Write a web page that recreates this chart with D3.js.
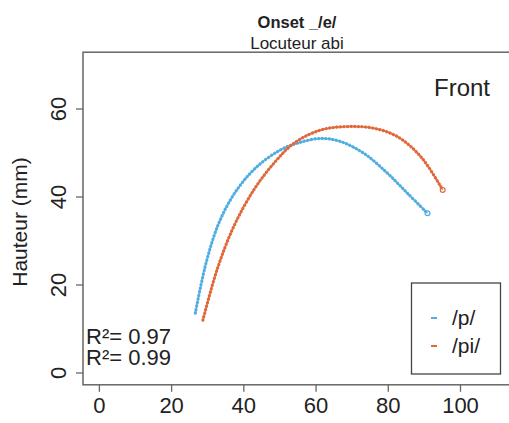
<!DOCTYPE html>
<html><head><meta charset="utf-8">
<script src="https://cdn.jsdelivr.net/npm/d3@7"></script>
<style>body{margin:0;background:#fff}svg{display:block}text{font-family:"Liberation Sans",Arial,sans-serif}</style>
</head><body><svg id="c" width="509" height="423"></svg>
<script>
const titleMain = "Onset _/e/";
const titleSub = "Locuteur abi";
const yLabel = "Hauteur (mm)";
const panelLabel = "Front";
const seriesNames = ["/p/", "/pi/"];
const seriesColors = ["#52AEE2", "#E0683A"];
const r2Labels = ["R²= 0.97", "R²= 0.99"];
const xTicks = [0, 20, 40, 60, 80, 100];
const yTicks = [0, 20, 40, 60];
const pX = [26.7, 29.9, 33.6, 38.2, 43.8, 50.3, 54.9, 61.4, 66.9, 73.4, 79.9, 85.5, 91.0];
const pY = [13.5, 25.6, 34.7, 41.5, 46.8, 50.6, 52.1, 53.2, 52.5, 49.8, 45.3, 40.7, 36.2];
const piX = [28.8, 32.7, 37.3, 42.9, 48.4, 54.0, 61.4, 68.8, 76.2, 82.7, 89.2, 95.2];
const piY = [11.9, 23.3, 33.1, 41.5, 47.5, 52.1, 55.1, 55.9, 55.5, 53.6, 49.0, 41.5];

const svg = d3.select("#c");
const x = d3.scaleLinear().domain([-4.4, 114.4]).range([83, 512]);
const y = d3.scaleLinear().domain([-2.8, 72.8]).range([384.8, 52.2]);
const axisCol = "#666";

// box
svg.append("rect").attr("x", x.range()[0]).attr("y", y.range()[1])
  .attr("width", x.range()[1]-x.range()[0]).attr("height", y.range()[0]-y.range()[1])
  .attr("fill", "none").attr("stroke", axisCol).attr("stroke-width", 1.5);

// axes
const xa = svg.append("g").attr("transform", `translate(0,${y.range()[0]})`)
  .call(d3.axisBottom(x).tickValues(xTicks).tickSize(7).tickPadding(6).tickFormat(d3.format("d")));
xa.select(".domain").remove();
xa.selectAll("line").attr("stroke", axisCol).attr("stroke-width", 1.3);
xa.selectAll("text").attr("font-size", 22).attr("fill", "#222");

const ya = svg.append("g").attr("transform", `translate(${x.range()[0]},0)`)
  .call(d3.axisLeft(y).tickValues(yTicks).tickSize(7).tickFormat(d3.format("d")));
ya.select(".domain").remove();
ya.selectAll("line").attr("stroke", axisCol).attr("stroke-width", 1.3);
ya.selectAll("text").attr("font-size", 22).attr("fill", "#222")
  .attr("text-anchor", "middle").attr("dy", null).attr("x", null)
  .attr("transform", d => `translate(-25,0) rotate(-90) translate(0,8)`);

// titles
svg.append("text").attr("x", 297).attr("y", 28).attr("text-anchor", "middle")
  .attr("font-size", 16.5).attr("font-weight", "bold").attr("fill", "#222").text(titleMain);
svg.append("text").attr("x", 297).attr("y", 49).attr("text-anchor", "middle")
  .attr("font-size", 17).attr("fill", "#222").text(titleSub);
svg.append("text").attr("transform", "translate(27,222) rotate(-90)").attr("text-anchor", "middle")
  .attr("font-size", 21).attr("fill", "#222").text(yLabel);

// curves
const line = d3.line().x(d => x(d[0])).y(d => y(d[1])).curve(d3.curveCatmullRom);
const series = [d3.zip(pX, pY), d3.zip(piX, piY)];
series.forEach((s, i) => {
  svg.append("path").datum(s).attr("d", line).attr("fill", "none")
    .attr("stroke", seriesColors[i]).attr("stroke-width", 1.6).attr("stroke-opacity", 0.85);
  svg.append("path").datum(s).attr("d", line).attr("fill", "none")
    .attr("stroke", seriesColors[i]).attr("stroke-width", 3.2)
    .attr("stroke-linecap", "round").attr("stroke-dasharray", "0.3,3.3");
  const e = s[s.length-1];
  svg.append("circle").attr("cx", x(e[0])).attr("cy", y(e[1])).attr("r", 2.4)
    .attr("fill", "none").attr("stroke", seriesColors[i]).attr("stroke-width", 1.2);
});

// panel label
svg.append("text").attr("x", 490).attr("y", 96).attr("text-anchor", "end")
  .attr("font-size", 24).attr("fill", "#222").text(panelLabel);

// R2
r2Labels.forEach((t, i) => {
  svg.append("text").attr("x", 86).attr("y", 344 + i*21).attr("font-size", 22).attr("fill", "#222").text(t);
});

// legend
svg.append("rect").attr("x", 411.5).attr("y", 283).attr("width", 89).attr("height", 91)
  .attr("fill", "#fff").attr("stroke", "#444").attr("stroke-width", 1.3);
seriesNames.forEach((n, i) => {
  const yy = 318 + i*28;
  svg.append("line").attr("x1", 431).attr("x2", 437).attr("y1", yy).attr("y2", yy)
    .attr("stroke", seriesColors[i]).attr("stroke-width", 2);
  svg.append("text").attr("x", 452).attr("y", yy + 7).attr("font-size", 21).attr("fill", "#222").text(n);
});
</script></body></html>
